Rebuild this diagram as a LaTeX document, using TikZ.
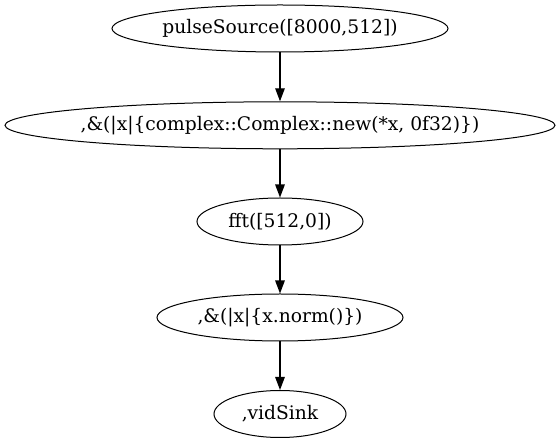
\documentclass[tikz,border=0pt]{standalone}
\usepackage{fontspec}
\setmainfont{DejaVu Serif}
\usetikzlibrary{shapes.geometric,arrows.meta}
\newcommand{\gvtext}[1]{\makebox[0pt]{#1}}
\begin{document}
\begin{tikzpicture}[x=1pt,y=-1pt,
  gvnode/.style={draw,ellipse,inner sep=0pt,minimum height=47pt,font=\fontsize{18.67}{21}\selectfont,line width=1pt},
  gvedge/.style={draw,line width=1.33pt,-{Triangle[length=13pt,width=9.5pt]}}]
\useasboundingbox (0,0) rectangle (560,443);
\node[gvnode,minimum width=336pt] (a) at (280,28.5) {\gvtext{pulseSource([8000,512])}};
\node[gvnode,minimum width=550pt] (b) at (280,125.3) {\gvtext{,\&(|x|\{complex::Complex::new(*x, 0f32)\})}};
\node[gvnode,minimum width=166pt] (c) at (280,221.5) {\gvtext{fft([512,0])}};
\node[gvnode,minimum width=246pt] (d) at (280,317.5) {\gvtext{,\&(|x|\{x.norm()\})}};
\node[gvnode,minimum width=132pt] (e) at (280,414) {\gvtext{,vidSink}};
\draw[gvedge] (a) -- (b);
\draw[gvedge] (b) -- (c);
\draw[gvedge] (c) -- (d);
\draw[gvedge] (d) -- (e);
\end{tikzpicture}
\end{document}
